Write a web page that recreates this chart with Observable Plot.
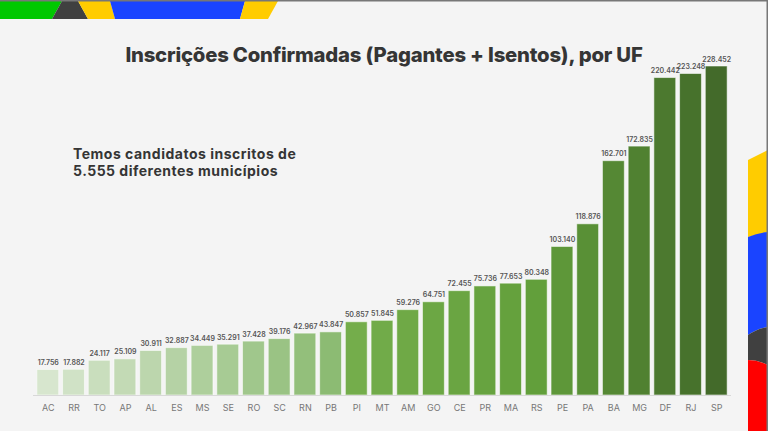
<!DOCTYPE html>
<html>
<head>
<meta charset="utf-8">
<script src="https://cdn.jsdelivr.net/npm/d3@7"></script>
<script src="https://cdn.jsdelivr.net/npm/@observablehq/plot@0.6"></script>
<style>
  html, body { margin: 0; padding: 0; }
  #page { position: relative; width: 768px; height: 431px; overflow: hidden; background: #f4f4f4; font-family: Inter, "Open Sans", sans-serif; }
  #deco { position: absolute; left: 0; top: 0; }
  #chart { position: absolute; left: 0; top: 0; }
  #title { position: absolute; left: 0; width: 768px; top: 42px; text-align: center; font-size: 20.3px; font-weight: 800; color: #353535; letter-spacing: -0.2px; }
  .sub { position: absolute; left: 73px; font-size: 14px; font-weight: 700; color: #353535; line-height: 16px; letter-spacing: 0.5px; white-space: nowrap; }
</style>
</head>
<body>
<div id="page">
  <svg id="deco" width="768" height="431">
    <polygon points="0,1 62,1 52,19 0,19" fill="#00c800"/>
    <polygon points="62,1 78,1 88,19 52,19" fill="#404040"/>
    <polygon points="78,1 110,1 115,19 88,19" fill="#ffcc00"/>
    <polygon points="110,1 245,1 240,19 115,19" fill="#1a44ff"/>
    <polygon points="245,1 278,1 268,19 240,19" fill="#ffcc00"/>
    <polygon points="748,160 768,150 768,232 748,237" fill="#ffcc00"/>
    <path d="M748,237 Q758,233 768,232 L768,327 Q758,328 748,335 Z" fill="#1a44ff"/>
    <path d="M748,335 Q758,328 768,327 L768,365 Q758,360 748,360 Z" fill="#404040"/>
    <path d="M748,360 Q758,360 768,365 L768,431 L748,431 Z" fill="#ff0000"/>
    <rect x="0" y="0" width="768" height="1.5" fill="#777"/>
    <rect x="766.5" y="0" width="1.5" height="431" fill="#777"/>
  </svg>
  <div id="chart"></div>
  <div id="title">Inscrições Confirmadas (Pagantes + Isentos), por UF</div>
  <div class="sub" style="top:146px">Temos candidatos inscritos de</div>
  <div class="sub" style="top:163px">5.555 diferentes municípios</div>
</div>
<script>
const ufs = ["AC","RR","TO","AP","AL","ES","MS","SE","RO","SC","RN","PB","PI","MT","AM","GO","CE","PR","MA","RS","PE","PA","BA","MG","DF","RJ","SP"];
const inscricoes = [17756,17882,24117,25109,30911,32887,34449,35291,37428,39176,42967,43847,50857,51845,59276,64751,72455,75736,77653,80348,103140,118876,162701,172835,220442,223248,228452];

const data = ufs.map((uf, i) => ({uf, value: inscricoes[i], rank: i}));
const fmt = d3.formatLocale({decimal: ",", thousands: ".", grouping: [3], currency: ["R$", ""]}).format(",d");

const chart = Plot.plot({
  width: 768,
  height: 431,
  marginTop: 66,
  marginBottom: 36,
  marginLeft: 33,
  marginRight: 37,
  style: {background: "transparent", fontFamily: "Inter, 'Open Sans', sans-serif"},
  x: {domain: ufs, padding: 0.15, round: false, label: null},
  y: {domain: [0, d3.max(inscricoes)], axis: null},
  color: {type: "linear", domain: [0, 11, 12, 19, 26], range: ["#d7e6ce", "#8cbb73", "#74ad4b", "#629f3b", "#436a2a"]},
  marks: [
    Plot.barY(data, {x: "uf", y: "value", fill: "rank", stroke: "#ffffff", strokeOpacity: 0.55, strokeWidth: 1}),
    Plot.ruleY([0], {stroke: "#d8d8d8"}),
    Plot.text(data, {x: "uf", y: "value", text: d => fmt(d.value), dy: -5, lineAnchor: "bottom", fontSize: 7, fontWeight: 600, fill: "#555"}),
    Plot.axisX({tickSize: 0, tickPadding: 9, fontSize: 9, color: "#777", label: null})
  ]
});
document.getElementById("chart").appendChild(chart);
</script>
</body>
</html>
